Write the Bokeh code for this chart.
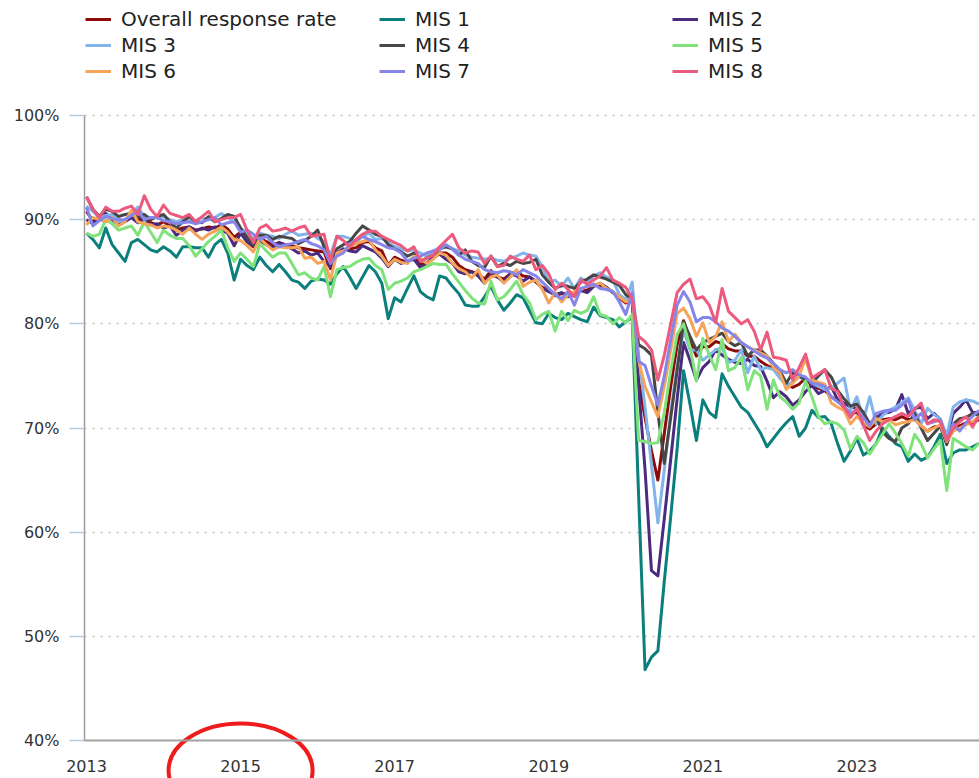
from bokeh.plotting import figure
from bokeh.models import (Range1d, FixedTicker, PrintfTickFormatter, Legend,
                          LegendItem, ColumnDataSource)
from bokeh.embed import file_html
from bokeh.resources import INLINE

# ---------------- data (monthly, Jan 2013 onward) ----------------
start_year = 2013
year_ticks = [2013, 2015, 2017, 2019, 2021, 2023]
pct_ticks = [40, 50, 60, 70, 80, 90, 100]
highlight_year = 2015

series_names = ["Overall response rate", "MIS 1", "MIS 2", "MIS 3", "MIS 4",
                "MIS 5", "MIS 6", "MIS 7", "MIS 8"]

overall = [90.8, 89.9, 90.0, 90.5, 90.1, 89.6, 89.9, 90.2, 90.0, 90.1, 89.7, 89.5,
           89.8, 89.4, 89.0, 89.2, 89.3, 89.0, 89.1, 89.3, 89.2, 89.5, 89.1, 88.3,
           88.8, 87.9, 87.4, 88.2, 87.9, 87.6, 87.8, 87.6, 87.5, 87.3, 87.2, 87.1,
           87.0, 86.9, 85.3, 86.8, 87.1, 87.2, 87.3, 87.8, 87.9, 87.3, 87.0, 85.6,
           86.4, 86.1, 85.9, 86.4, 85.7, 85.8, 86.3, 86.8, 86.8, 86.4, 85.6, 85.2,
           85.0, 84.8, 84.3, 85.1, 84.5, 84.3, 84.8, 85.0, 84.6, 84.5, 84.0, 83.5,
           83.3, 82.7, 82.9, 82.9, 82.7, 83.3, 83.2, 83.8, 83.7, 83.5, 83.0, 82.5,
           82.0, 82.3, 74.5, 71.0, 67.8, 65.0, 69.5, 74.0, 78.0, 80.3, 78.5, 76.9,
           77.8, 77.8, 78.3, 78.1, 77.6, 77.4, 77.4, 76.9, 76.9, 76.4, 76.0, 75.7,
           74.9, 74.2, 73.9, 74.2, 74.8, 74.0, 73.8, 73.6, 73.0, 72.6, 72.0, 71.2,
           71.6, 70.3, 69.9, 70.4, 70.8, 70.9, 70.8, 71.1, 70.8, 70.9, 70.2, 69.7,
           70.1, 70.2, 68.6, 69.9, 70.2, 70.5, 70.5, 70.8]

mis1 = [88.7, 88.1, 87.3, 89.2, 87.6, 86.8, 86.0, 87.8, 88.1, 87.6, 87.1, 86.9,
        87.4, 87.0, 86.4, 87.4, 87.4, 87.3, 87.3, 86.4, 87.6, 88.1, 86.8, 84.2,
        86.2, 85.6, 85.2, 86.4, 85.6, 85.0, 85.7, 85.0, 84.2, 84.0, 83.4, 84.1,
        84.3, 84.2, 83.8, 84.8, 85.5, 84.5, 83.4, 84.5, 85.6, 85.0, 83.9, 80.5,
        82.5, 82.1, 83.4, 84.6, 83.1, 82.6, 82.3, 84.6, 84.4, 83.6, 82.9, 81.8,
        81.7, 81.7, 82.6, 83.6, 82.3, 81.3, 82.0, 82.8, 82.5, 81.3, 80.1, 80.0,
        81.0, 80.6, 80.4, 81.0, 80.7, 80.4, 80.2, 81.6, 80.8, 80.6, 80.4, 79.7,
        80.2, 80.6, 63.5, 46.8, 48.0, 48.6, 55.3, 61.5, 68.0, 75.5, 72.3, 68.8,
        72.7, 71.5, 71.0, 75.2, 74.0, 73.0, 72.0, 71.5, 70.5, 69.5, 68.2, 69.0,
        69.8, 70.5, 71.1, 69.2, 70.0, 71.7, 71.0, 71.1, 70.4, 68.5, 66.8, 67.8,
        69.0, 67.4, 67.8, 68.5, 70.0, 69.2, 68.5, 68.2, 66.8, 67.5, 66.9, 67.2,
        68.2, 69.4, 66.6, 67.6, 67.9, 67.9, 68.2, 68.5]

mis2 = [90.0, 89.6, 90.3, 90.6, 90.0, 89.5, 89.8, 90.2, 89.7, 89.9, 89.5, 89.6,
        89.2, 89.4, 88.5, 89.0, 89.3, 88.9, 89.2, 89.0, 89.3, 89.0, 88.7, 87.5,
        88.7, 87.9, 87.5, 88.0, 87.6, 87.3, 87.8, 87.5, 87.2, 86.8, 87.0, 86.6,
        86.8, 86.0, 85.5, 86.8, 87.2, 87.0, 86.9, 87.5, 87.2, 86.9, 86.3, 85.5,
        86.2, 85.8, 86.0, 86.2, 85.4, 85.8, 86.4, 86.7, 86.2, 85.8, 85.0, 84.8,
        85.0, 84.6, 83.9, 84.7, 84.5, 84.0, 84.8, 84.6, 84.1, 84.5, 84.1, 83.4,
        83.1, 82.8, 83.0, 82.6, 82.9, 83.2, 83.0, 83.6, 83.9, 83.5, 83.0, 82.6,
        82.4, 82.0, 74.0, 66.0, 56.3, 55.8, 61.3, 67.0, 72.8, 78.2, 76.5, 74.6,
        75.8, 76.4, 77.5, 77.0, 76.6, 76.3, 76.2, 76.6, 76.0, 75.9, 74.5, 72.9,
        73.5, 73.0, 72.2, 72.7, 73.5, 74.1, 73.3, 73.6, 74.0, 72.7, 72.4, 72.0,
        71.9, 71.5, 70.4, 71.0, 71.4, 71.5, 71.8, 73.2, 71.4, 71.9, 72.0, 70.9,
        71.4, 70.8, 69.1, 71.4, 72.0, 72.7, 71.5, 71.5]

mis3 = [91.3, 90.8, 90.2, 90.4, 90.5, 89.8, 90.0, 90.6, 91.2, 90.3, 90.2, 90.2,
        90.3, 90.0, 89.8, 90.0, 89.8, 89.9, 90.2, 90.0, 90.2, 90.6, 90.2, 89.8,
        89.2, 88.6, 88.2, 88.7, 88.5, 88.4, 88.2, 88.6, 88.9, 88.5, 88.6, 88.7,
        88.2, 87.9, 86.6, 88.4, 88.4, 88.2, 87.9, 88.4, 88.7, 88.1, 88.2, 87.8,
        87.4, 87.2, 87.0, 87.1, 86.8, 86.5, 87.0, 87.3, 87.4, 87.2, 87.0, 86.6,
        86.4, 86.3, 86.2, 86.3, 86.1, 86.0, 86.3, 86.5, 86.8, 86.6, 86.5, 85.5,
        84.0, 84.2, 83.6, 84.4, 83.4, 84.4, 84.0, 84.6, 84.9, 84.5, 84.2, 82.8,
        82.3, 84.0, 77.0, 72.0, 66.5, 60.9, 66.0, 71.5, 76.0, 79.4, 77.5, 77.5,
        76.5, 77.0, 77.5, 77.7, 76.3, 76.5, 77.5, 75.3, 76.9, 75.6, 75.8, 75.6,
        74.8, 74.1, 74.4, 74.9, 74.6, 74.3, 74.0, 73.7, 73.8, 74.3, 74.8, 71.7,
        73.0, 70.8, 73.0, 70.4, 71.2, 71.7, 72.0, 72.4, 72.9, 71.7, 70.4, 71.9,
        71.3, 70.8, 69.3, 72.0, 72.5, 72.7, 72.6, 72.3]

mis4 = [92.2, 91.0, 90.3, 91.0, 90.8, 90.3, 90.5, 90.6, 90.2, 90.5, 90.0, 90.3,
        90.5, 89.8, 89.2, 89.8, 90.3, 89.8, 89.7, 90.3, 89.8, 90.1, 90.5, 90.3,
        89.2, 88.3, 87.6, 88.5, 88.5, 88.1, 88.4, 88.3, 88.2, 87.7, 88.0, 88.4,
        89.0, 87.4, 85.8, 87.2, 87.6, 87.9, 88.7, 89.4, 89.0, 88.6, 88.4, 87.6,
        87.2, 86.9, 86.5, 86.8, 86.0, 86.3, 86.6, 87.2, 87.4, 87.2, 86.6, 87.1,
        86.0, 85.6, 85.4, 86.5, 85.5, 85.8, 85.6, 86.0, 85.8, 85.9, 86.2, 84.7,
        84.0, 83.4, 83.7, 83.6, 83.4, 84.0, 84.3, 84.7, 84.5, 84.3, 84.0, 83.7,
        82.8, 82.4, 78.0, 77.6, 77.0, 71.5, 66.6, 71.0, 75.5, 80.2, 78.8, 77.5,
        78.2, 78.5, 78.8, 79.1, 78.3, 77.9, 78.2, 76.9, 77.5, 77.5, 76.9, 76.2,
        75.5, 74.3, 75.3, 75.0, 74.6, 74.3, 75.0, 75.6, 74.9, 73.6, 72.8, 72.1,
        72.3, 71.5, 70.2, 71.1, 69.6, 69.0, 68.7, 70.0, 70.4, 71.4, 70.0, 68.8,
        69.5, 70.2, 68.4, 70.4, 70.9, 71.0, 71.4, 71.2]

mis5 = [88.7, 88.4, 88.6, 90.0, 89.6, 89.0, 89.2, 89.4, 88.5, 89.8, 88.8, 87.8,
        89.0, 88.5, 88.2, 88.2, 87.5, 86.5, 87.2, 87.9, 88.4, 89.0, 87.3, 86.0,
        86.8, 86.2, 85.5, 87.7, 87.0, 86.4, 86.8, 86.8, 85.8, 84.7, 84.9, 84.4,
        84.2, 85.5, 82.6, 85.2, 85.4, 85.5, 85.9, 86.2, 86.3, 85.6, 85.2, 83.3,
        83.9, 84.1, 84.4, 85.0, 85.2, 85.5, 85.8, 85.7, 85.7, 84.8, 84.0, 83.2,
        82.5, 82.0, 81.9, 84.1, 82.3, 82.6, 83.3, 84.1, 82.8, 82.0, 80.4, 80.9,
        81.2, 79.3, 81.2, 80.3, 81.3, 81.0, 81.3, 82.6, 80.9, 80.7, 80.0, 80.6,
        80.1, 80.9, 68.8, 68.7, 68.5, 68.6, 71.5, 75.5, 79.0, 80.0, 77.8, 74.5,
        78.6, 77.0, 75.6, 78.5, 75.5, 75.8, 76.8, 73.7, 75.5, 75.0, 71.8, 74.6,
        73.0, 72.5, 71.8, 72.4, 74.5, 73.0, 71.1, 70.4, 70.6, 70.4, 69.8, 68.0,
        69.2, 68.6, 67.5, 68.5, 69.4, 70.4, 69.5, 68.5, 67.3, 69.4, 68.5, 67.1,
        68.0, 68.8, 64.0, 69.0, 68.6, 68.2, 67.9, 68.5]

mis6 = [89.5, 90.2, 90.0, 89.8, 90.2, 89.4, 89.8, 90.9, 89.8, 89.6, 89.5, 89.2,
        89.4, 89.3, 89.0, 88.6, 89.2, 88.6, 88.1, 88.6, 88.9, 89.3, 88.8, 88.1,
        88.0, 87.5, 86.9, 88.2, 87.6, 87.1, 87.4, 87.3, 87.3, 87.4, 86.3, 86.4,
        85.8, 86.0, 84.2, 86.8, 87.0, 87.4, 87.7, 87.9, 88.1, 87.1, 86.5, 85.6,
        86.2, 85.9, 85.8, 86.5, 86.3, 85.8, 86.2, 86.8, 86.6, 85.8, 85.3, 85.0,
        84.4, 85.2, 83.9, 84.5, 84.7, 83.9, 84.5, 85.2, 83.6, 84.0, 84.2, 83.3,
        82.0, 83.0, 82.1, 82.8, 83.1, 83.3, 83.6, 83.7, 83.9, 83.4, 83.1, 82.6,
        82.1, 82.4, 76.5, 74.0, 72.5, 71.1, 74.0, 77.5, 81.0, 81.5, 80.5, 78.8,
        80.1, 78.2, 78.8, 80.2, 78.3, 79.0, 78.2, 77.8, 77.5, 77.2, 76.9, 75.8,
        75.3, 73.7, 74.3, 75.0, 76.7, 74.6, 74.4, 74.2, 72.4, 72.0, 71.7, 70.4,
        71.1, 70.5, 70.1, 70.9, 70.6, 70.8, 70.3, 70.5, 70.6, 70.8, 70.2, 69.7,
        70.0, 70.3, 68.7, 69.7, 70.0, 70.3, 70.6, 71.1]

mis7 = [91.2, 89.4, 89.9, 90.3, 90.1, 90.0, 90.0, 90.4, 90.9, 90.0, 90.2, 90.2,
        89.9, 89.8, 89.6, 89.7, 89.8, 89.6, 89.8, 90.0, 90.2, 89.5, 89.7, 89.8,
        88.8, 89.0, 88.6, 88.1, 88.4, 87.8, 87.4, 87.6, 87.7, 87.9, 88.1, 87.7,
        87.5, 87.1, 85.8, 86.5, 86.8, 87.7, 88.0, 88.4, 88.1, 87.9, 87.6, 87.3,
        87.2, 86.8, 86.0, 86.3, 86.5, 86.8, 87.0, 87.1, 87.6, 87.2, 86.6, 86.2,
        86.0, 85.8, 85.2, 85.0, 84.9, 85.1, 85.0, 84.7, 85.2, 84.9, 84.6, 84.0,
        83.4, 82.8, 82.4, 83.1, 81.8, 83.4, 83.6, 83.8, 83.4, 83.3, 83.1, 82.1,
        80.9, 83.0, 76.4, 76.0, 74.0, 72.2, 75.0, 78.5, 81.8, 83.1, 82.1, 80.2,
        80.6, 80.6, 80.2, 79.6, 79.3, 78.8, 78.2, 77.8, 77.4, 77.0, 76.7, 76.2,
        75.6, 75.3, 75.6, 75.1, 74.9, 74.3, 74.2, 74.0, 73.0, 72.5, 72.1, 71.4,
        71.7, 71.0, 70.2, 71.4, 71.6, 71.7, 71.7, 72.2, 72.7, 70.8, 71.4, 70.4,
        70.6, 70.8, 68.8, 70.4, 69.7, 70.5, 71.1, 71.7]

mis8 = [92.2, 91.0, 90.2, 91.2, 90.8, 90.8, 91.1, 91.3, 90.5, 92.3, 91.0, 90.3,
        91.4, 90.6, 90.4, 90.2, 90.5, 89.8, 90.3, 90.8, 89.8, 90.0, 90.2, 90.2,
        90.5, 89.0, 87.8, 89.2, 89.5, 88.9, 89.0, 89.2, 88.9, 89.2, 89.4, 88.4,
        88.5, 88.6, 86.0, 88.4, 88.0, 87.4, 88.1, 88.6, 88.9, 88.9, 88.4, 88.1,
        87.8, 87.5, 87.0, 87.4, 86.0, 86.3, 86.6, 87.4, 88.0, 88.6, 87.3, 86.8,
        87.0, 86.9, 85.8, 86.5, 85.5, 85.6, 86.5, 86.2, 86.0, 86.6, 85.2, 85.6,
        84.8, 83.3, 83.9, 83.3, 82.6, 84.2, 83.8, 84.2, 84.6, 85.4, 84.2, 83.9,
        83.5, 82.4, 78.8, 78.3, 77.5, 74.6, 77.0, 80.0, 83.0, 83.8, 84.3, 82.4,
        82.6, 81.8, 80.1, 83.4, 81.2, 80.6, 80.0, 80.4, 79.3, 77.5, 79.2, 76.8,
        76.7, 76.5, 74.6, 75.8, 77.1, 74.8, 75.2, 75.6, 73.8, 73.5, 72.0, 71.0,
        71.9, 70.3, 68.8, 69.7, 70.4, 70.8, 71.1, 71.4, 71.1, 71.8, 72.4, 70.4,
        70.8, 70.6, 68.8, 70.0, 70.6, 71.1, 70.1, 71.1]

series_values = [overall, mis1, mis2, mis3, mis4, mis5, mis6, mis7, mis8]
series_colors = ["#8b0a0a", "#0b7f7c", "#4a2b80", "#80b4ea", "#474747",
                 "#7fe27a", "#f5a458", "#8585ea", "#ec5a7e"]

# ---------------- figure ----------------
# The plot frame covers the whole canvas; both axes sit at fixed locations
# (x axis on the 40 % line, y axis just left of Jan 2013) so that the legend,
# the tick labels and the highlight ellipse are all drawn without clipping.
x_lo, x_hi = 2011.8837, 2024.5914
y_lo, y_hi = 36.352, 111.04
axis_x = 2012.974

p = figure(width=979, height=778, output_backend="svg", toolbar_location=None,
           x_range=Range1d(x_lo, x_hi), y_range=Range1d(y_lo, y_hi),
           min_border_left=0, min_border_right=0,
           min_border_top=0, min_border_bottom=0)
p.outline_line_color = None
p.background_fill_color = "white"
p.border_fill_color = "white"

p.xgrid.grid_line_color = None
p.ygrid.grid_line_color = "#bdbdbd"
p.ygrid.grid_line_dash = "2 6"
p.ygrid.grid_line_width = 1.5
p.ygrid.ticker = FixedTicker(ticks=pct_ticks)
try:
    p.ygrid.cross_bounds = (axis_x, x_hi)
except Exception:
    pass

yax = p.yaxis[0]
yax.fixed_location = axis_x
yax.ticker = FixedTicker(ticks=pct_ticks)
yax.bounds = (40, 100)
yax.formatter = PrintfTickFormatter(format="%d%%")
yax.axis_line_color = "#9a9a9a"
yax.axis_line_width = 1.5
yax.major_tick_line_color = "#b7c9de"
yax.major_tick_line_width = 1.5
yax.major_tick_out = 15
yax.major_tick_in = 0
yax.minor_tick_line_color = None
yax.major_label_standoff = 10
yax.major_label_text_font = "DejaVu Sans"
yax.major_label_text_font_size = "16px"
yax.major_label_text_color = "#333333"

xax = p.xaxis[0]
xax.fixed_location = 40
xax.ticker = FixedTicker(ticks=year_ticks)
xax.bounds = (axis_x, x_hi)
xax.axis_line_color = "#a3a3a3"
xax.axis_line_width = 2
xax.major_tick_line_color = None
xax.minor_tick_line_color = None
xax.major_tick_out = 0
xax.major_tick_in = 0
xax.major_label_standoff = 19
xax.major_label_text_font = "DejaVu Sans"
xax.major_label_text_font_size = "16px"
xax.major_label_text_color = "#333333"

renderers = []
for name, vals, col in zip(series_names, series_values, series_colors):
    xs = [start_year + k / 12 for k in range(len(vals))]
    src = ColumnDataSource(dict(x=xs, y=vals))
    r = p.line("x", "y", source=src, line_color=col, line_width=3,
               line_join="round")
    renderers.append(r)

# legend: three columns at the top of the canvas
legend_cols = [[0, 3, 6], [1, 4, 7], [2, 5, 8]]
legend_x = [85, 379, 672]
for col_idx, xpos in zip(legend_cols, legend_x):
    items = [LegendItem(label=series_names[i], renderers=[renderers[i]])
             for i in col_idx]
    leg = Legend(items=items, location=(xpos, 695), orientation="vertical",
                 padding=0, margin=0, spacing=2, glyph_width=26,
                 glyph_height=20, label_height=20, label_standoff=10,
                 label_text_font="DejaVu Sans", label_text_font_size="20px",
                 label_text_color="#222222", border_line_color=None,
                 background_fill_alpha=0)
    p.add_layout(leg, "center")

# red highlight ellipse around the 2015 tick label
p.ellipse(x=[highlight_year], y=[37.12], width=144, height=94,
          width_units="screen", height_units="screen",
          fill_color=None, line_color="#ee1c1c", line_width=4)

open("out.html", "w").write(file_html(p, INLINE))
